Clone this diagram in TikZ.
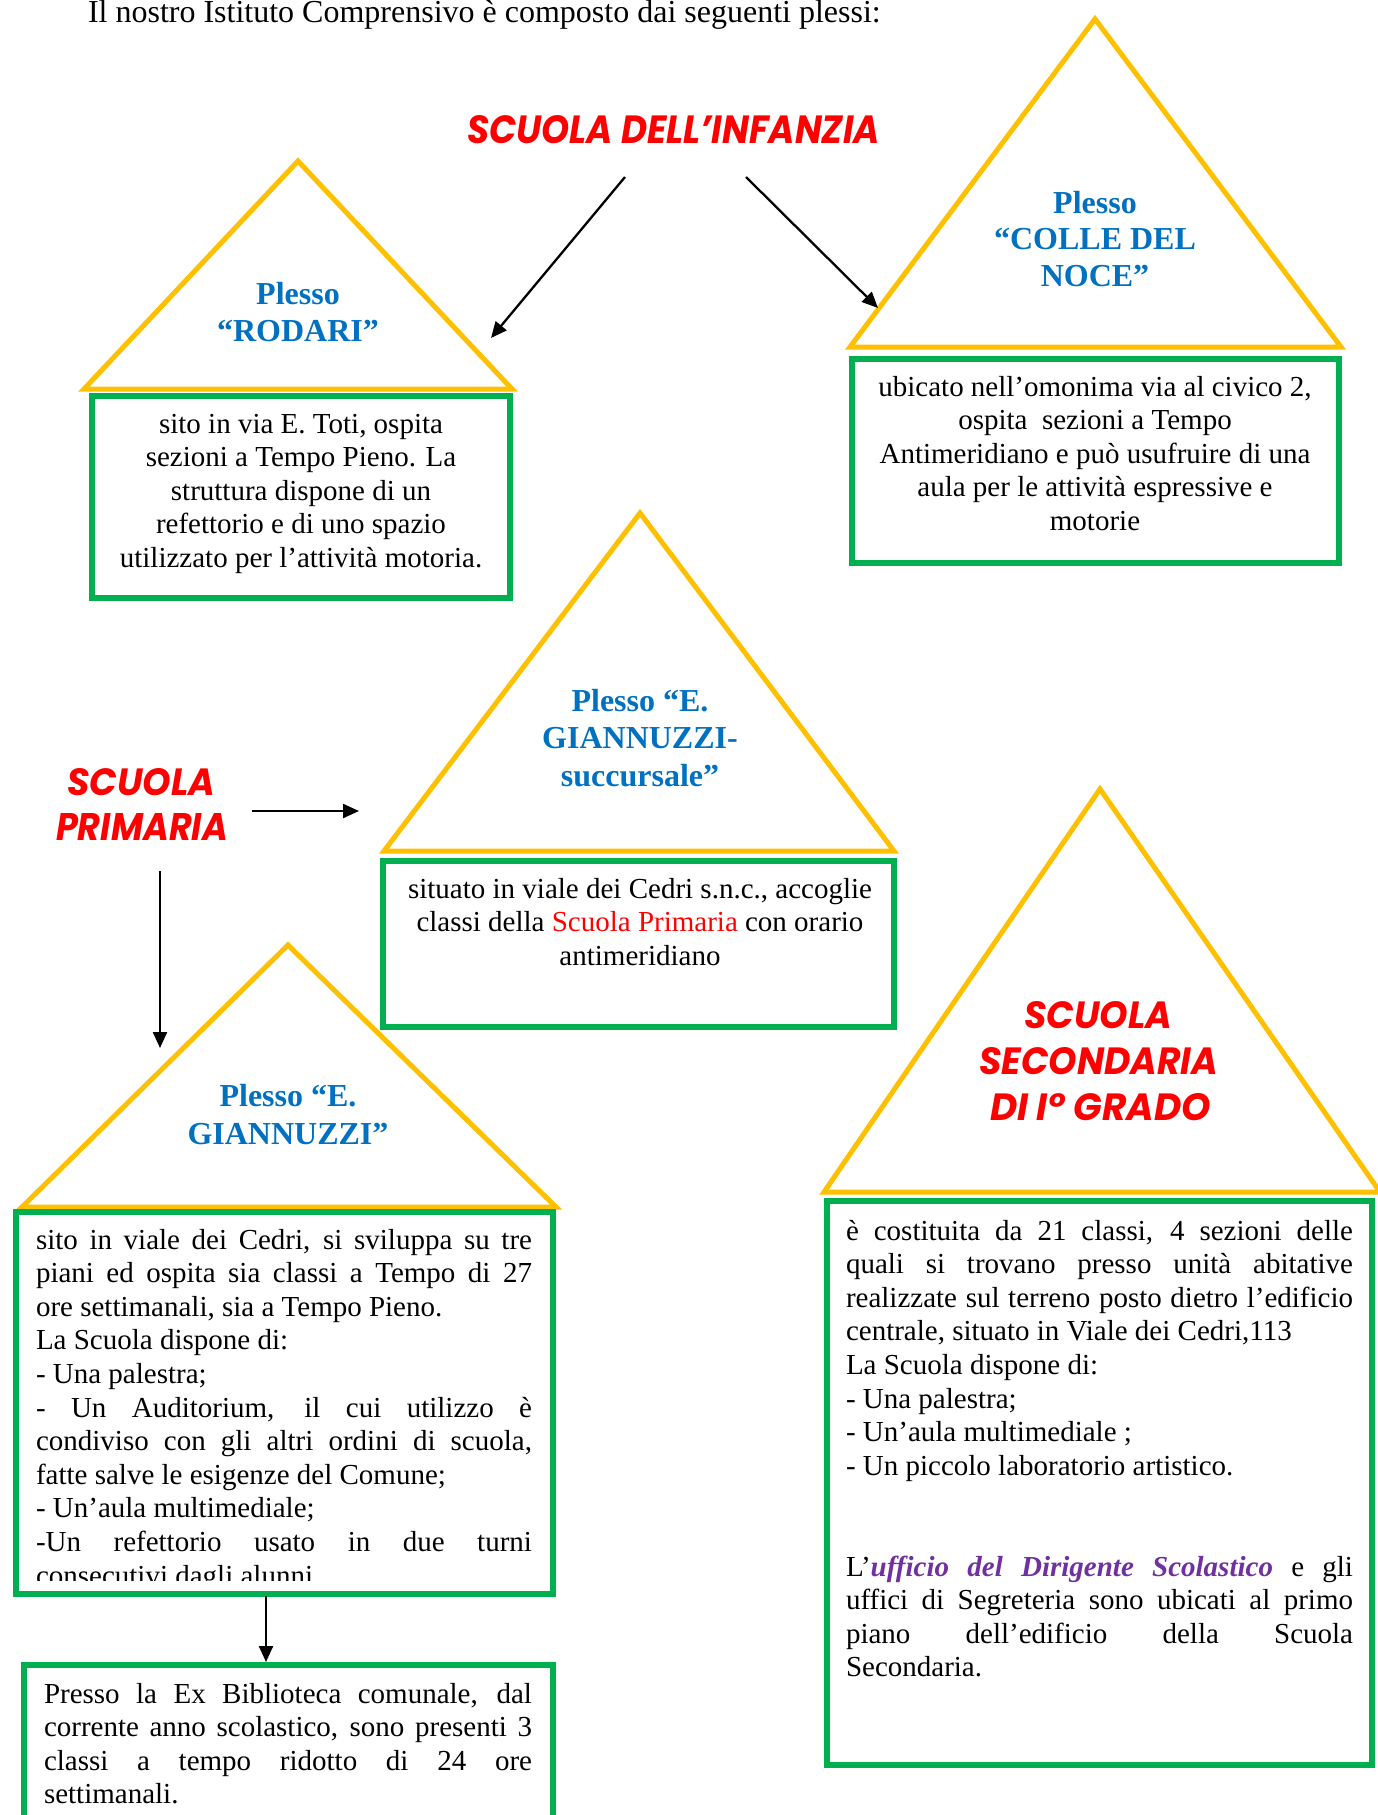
\documentclass[tikz,border=0pt]{standalone}
\usepackage{fontspec}
\setmainfont{Liberation Serif}
\newfontfamily\gothic{Poppins}
\usetikzlibrary{arrows.meta}
\definecolor{roofc}{HTML}{FFC000}
\definecolor{wallc}{HTML}{00B050}
\definecolor{plessoblue}{HTML}{0070C0}
\definecolor{headred}{HTML}{FF0000}
\definecolor{dirpurple}{HTML}{7030A0}
\newcommand{\bodyfnt}{\fontsize{29}{33.6}\selectfont}
\newcommand{\plessofnt}[1]{\fontsize{32}{#1}\selectfont\bfseries\leavevmode\color{plessoblue}}
\newcommand{\jl}[2]{\makebox[#1][s]{#2}}
\newcommand{\hd}[3]{\resizebox{#1}{#2}{\gothic\bfseries\itshape\color{headred}#3}}
\begin{document}
\begin{tikzpicture}[x=1pt,y=-1pt,
  roof/.style={draw=roofc,line width=5pt,line join=miter},
  wall/.style={draw=wallc,line width=5.5pt},
  conn/.style={draw=black,line width=2.3pt,-{Triangle[length=16pt,width=14pt]}},
  txt/.style={inner sep=0pt,outer sep=0pt,anchor=base},
  txtw/.style={inner sep=0pt,outer sep=0pt,anchor=base west}]
\useasboundingbox (0,0) rectangle (1378,1815);

% intro line
\node[txtw] (intro) at (88,22) {\fontsize{32}{37}\selectfont Il nostro Istituto Comprensivo è composto dai seguenti plessi:};

% ---------- SCUOLA DELL'INFANZIA heading
\node[txtw] (infanzia) at (467,143) {\hd{413pt}{28pt}{SCUOLA DELL’INFANZIA}};
\coordinate (infL) at (625,177);
\coordinate (infR) at (746,177);

% ---------- Plesso RODARI
\coordinate (rodTop) at (298,161);
\coordinate (rodHit) at (491,338);
\draw[roof] (rodTop) -- (512,389) -- (84,389) -- cycle;
\draw[wall] (92,396) rectangle (510,598);
\node[txt] (rodT) at (298,304) {\parbox[t]{400pt}{\centering\plessofnt{37}Plesso\\“RODARI”}};
\node[txt] (rodB) at (301,433) {\parbox[t]{420pt}{\centering\bodyfnt sito in via E. Toti, ospita\\ sezioni a Tempo Pieno. La\\ struttura dispone di un\\ refettorio e di uno spazio\\ utilizzato per l’attività motoria.}};

% ---------- Plesso COLLE DEL NOCE
\coordinate (colTop) at (1095,19);
\coordinate (colHit) at (878,308);
\draw[roof] (colTop) -- (1341,347) -- (850,347) -- cycle;
\draw[wall] (852,359) rectangle (1339,563);
\node[txt] (colT) at (1095,213) {\parbox[t]{400pt}{\centering\plessofnt{36.5}Plesso\\“COLLE DEL\\NOCE”}};
\node[txt] (colB) at (1095,396) {\parbox[t]{480pt}{\centering\bodyfnt ubicato nell’omonima via al civico 2,\\ ospita\ \ sezioni a Tempo\\ Antimeridiano e può usufruire di una\\ aula per le attività espressive e\\ motorie}};

\draw[conn] (infL) -- (rodHit);
\draw[conn] (infR) -- (colHit);

% ---------- SCUOLA PRIMARIA heading
\node[txtw] (prim1) at (67,795) {\hd{148pt}{27pt}{SCUOLA}};
\node[txtw] (prim2) at (56,840) {\hd{172pt}{27pt}{PRIMARIA}};
\coordinate (primR) at (252,811);
\coordinate (primB) at (160,871);

% ---------- Plesso GIANNUZZI-succursale
\coordinate (sucTop) at (640,513);
\coordinate (sucHit) at (359,811);
\draw[roof] (sucTop) -- (894,851) -- (384,851) -- cycle;
\draw[wall] (383,861) rectangle (894,1027);
\node[txt] (sucT) at (640,711) {\parbox[t]{400pt}{\centering\plessofnt{37.5}Plesso “E.\\GIANNUZZI-\\succursale”}};
\node[txt] (sucB) at (640,898) {\parbox[t]{500pt}{\centering\bodyfnt situato in viale dei Cedri s.n.c., accoglie\\ classi della {\color{headred}Scuola Primaria} con orario\\ antimeridiano}};

% ---------- Plesso GIANNUZZI
\coordinate (giaTop) at (288,945);
\coordinate (giaHit) at (160,1048);
\draw[roof] (giaTop) -- (556,1207) -- (22,1207) -- cycle;
\draw[wall] (16,1212) rectangle (553,1594);
\node[txt] (giaT) at (288,1106) {\parbox[t]{400pt}{\centering\plessofnt{38}Plesso “E.\\GIANNUZZI”}};
\begin{scope}
\clip (20,1215) rectangle (549,1580);
\node[txtw] (giaB) at (36,1249) {\parbox[t]{496pt}{\bodyfnt
\jl{496pt}{sito in viale dei Cedri, si sviluppa su tre}\\
\jl{496pt}{piani ed ospita sia classi a Tempo di 27}\\
ore settimanali, sia a Tempo Pieno.\\
La Scuola dispone di:\\
- Una palestra;\\
\jl{496pt}{- Un Auditorium, il cui utilizzo è}\\
\jl{496pt}{condiviso con gli altri ordini di scuola,}\\
fatte salve le esigenze del Comune;\\
- Un’aula multimediale;\\
\jl{496pt}{-Un refettorio usato in due turni}\\
consecutivi dagli alunni.}};
\end{scope}
\coordinate (giaOut) at (266,1596);

% ---------- Ex Biblioteca box
\coordinate (bibIn) at (266,1662);
\draw[wall] (24,1665) rectangle (553,1840);
\node[txtw] (bibB) at (44,1703) {\parbox[t]{488pt}{\bodyfnt
\jl{488pt}{Presso la Ex Biblioteca comunale, dal}\\
\jl{488pt}{corrente anno scolastico, sono presenti 3}\\
\jl{488pt}{classi a tempo ridotto di 24 ore}\\
settimanali.}};

\draw[conn] (primR) -- (sucHit);
\draw[conn] (primB) -- (giaHit);
\draw[conn] (giaOut) -- (bibIn);

% ---------- SCUOLA SECONDARIA
\coordinate (secTop) at (1100,789);
\draw[roof] (secTop) -- (1380,1192) -- (824,1192) -- cycle;
\draw[wall] (827,1201) rectangle (1372,1765);
\node[txtw] (sec1) at (1024,1028) {\hd{148pt}{27pt}{SCUOLA}};
\node[txtw] (sec2) at (979,1074) {\hd{239pt}{27pt}{SECONDARIA}};
\node[txtw] (sec3) at (990,1120) {\hd{221pt}{27pt}{DI I° GRADO}};
\node[txtw] (secB) at (846,1240) {\parbox[t]{507pt}{\bodyfnt
\jl{507pt}{è costituita da 21 classi, 4 sezioni delle}\\
\jl{507pt}{quali si trovano presso unità abitative}\\
\jl{507pt}{realizzate sul terreno posto dietro l’edificio}\\
centrale, situato in Viale dei Cedri,113\\
La Scuola dispone di:\\
- Una palestra;\\
- Un’aula multimediale ;\\
- Un piccolo laboratorio artistico.\\
\mbox{}\\
\mbox{}\\
\jl{507pt}{L’{\color{dirpurple}\bfseries\itshape ufficio del Dirigente Scolastico} e gli}\\
\jl{507pt}{uffici di Segreteria sono ubicati al primo}\\
\jl{507pt}{piano dell’edificio della Scuola}\\
Secondaria.}};
\end{tikzpicture}
\end{document}
